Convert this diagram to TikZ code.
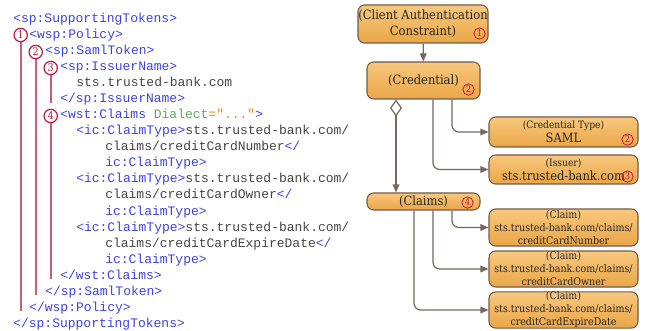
\documentclass[tikz,border=0pt]{standalone}
\usepackage{fontspec}
\usetikzlibrary{calc,arrows.meta}
\newfontfamily\codefont{Liberation Mono}
\newfontfamily\boxfont{DejaVu Serif Condensed}
\definecolor{tagblue}{RGB}{66,66,226}
\definecolor{codegray}{RGB}{70,70,70}
\definecolor{attrgreen}{RGB}{96,172,96}
\definecolor{valorange}{RGB}{240,132,24}
\definecolor{barpink}{RGB}{204,92,128}
\definecolor{badgered}{RGB}{196,20,62}
\definecolor{boxtop}{RGB}{248,200,126}
\definecolor{boxbot}{RGB}{234,166,70}
\definecolor{boxline}{RGB}{110,92,78}
\definecolor{linkgray}{RGB}{118,104,94}
\newcommand{\tagtxt}[1]{\textcolor{tagblue}{#1}}
\newcommand{\attrtxt}[1]{\textcolor{attrgreen}{#1}}
\newcommand{\valtxt}[1]{\textcolor{valorange}{#1}}

\begin{document}
\begin{tikzpicture}[x=0.75pt, y=-0.75pt,
    xmlline/.style={anchor=base west, inner sep=0pt, text=codegray,
        font=\codefont\fontsize{9.75}{11}\selectfont},
    bar/.style={draw=barpink, line width=1.5pt},
    badge/.style={circle, draw=badgered, fill=white, line width=0.9pt, inner sep=0pt,
        minimum size=10pt, text=badgered, font=\boxfont\fontsize{8}{8}\selectfont},
    smallbadge/.style={circle, draw=badgered, line width=0.6pt, inner sep=0pt,
        minimum size=8.5pt, text=badgered, font=\boxfont\fontsize{7}{7}\selectfont},
    entity/.style={draw=boxline, line width=0.8pt, rounded corners=5pt,
        top color=boxtop, bottom color=boxbot, align=center, inner sep=0pt,
        text=black!85, font=\boxfont\fontsize{9.6}{12}\selectfont},
    conn/.style={draw=linkgray, line width=0.9pt},
    tip/.style={-{Triangle[length=6pt,width=5pt]}}]
    % page
    \path[fill=white](0,0)rectangle(645,331);
    % xml listing
    \node[xmlline](l0)at(13,23){\tagtxt{<sp:SupportingTokens>}};
    \node[xmlline](l1)at(29,39){\tagtxt{<wsp:Policy>}};
    \node[xmlline](l2)at(45,55){\tagtxt{<sp:SamlToken>}};
    \node[xmlline](l3)at(60,71){\tagtxt{<sp:IssuerName>}};
    \node[xmlline](l4)at(76,87){sts.trusted-bank.com};
    \node[xmlline](l5)at(60,103){\tagtxt{</sp:IssuerName>}};
    \node[xmlline](l6)at(60,119){\tagtxt{<wst:Claims }\attrtxt{Dialect}\valtxt{="..."}\tagtxt{>}};
    \node[xmlline](l7)at(76,135){\tagtxt{<ic:ClaimType>}sts.trusted-bank.com/};
    \node[xmlline](l8)at(105,151){claims/creditCardNumber\tagtxt{</}};
    \node[xmlline](l9)at(105,167){\tagtxt{ic:ClaimType>}};
    \node[xmlline](l10)at(76,183){\tagtxt{<ic:ClaimType>}sts.trusted-bank.com/};
    \node[xmlline](l11)at(105,199){claims/creditCardOwner\tagtxt{</}};
    \node[xmlline](l12)at(105,215){\tagtxt{ic:ClaimType>}};
    \node[xmlline](l13)at(76,231){\tagtxt{<ic:ClaimType>}sts.trusted-bank.com/};
    \node[xmlline](l14)at(105,247){claims/creditCardExpireDate\tagtxt{</}};
    \node[xmlline](l15)at(105,263){\tagtxt{ic:ClaimType>}};
    \node[xmlline](l16)at(60,279){\tagtxt{</wst:Claims>}};
    \node[xmlline](l17)at(45,295){\tagtxt{</sp:SamlToken>}};
    \node[xmlline](l18)at(29,311){\tagtxt{</wsp:Policy>}};
    \node[xmlline](l19)at(13,327){\tagtxt{</sp:SupportingTokens>}};
    % scope bars
    \coordinate(p1)at(20.7,35);
    \coordinate(p2)at(35.7,52);
    \coordinate(p3)at(50.7,68);
    \coordinate(p4)at(50.7,116);
    \path[draw, bar](p1)to(p1 |- l18.base);
    \path[draw, bar](p2)to(p2 |- l17.base);
    \path[draw, bar](p3)to(p3 |- l5.base);
    \path[draw, bar](p4)to(p4 |- l16.base);
    \node[badge](n1)at(p1){1};
    \node[badge](n2)at(p2){2};
    \node[badge](n3)at(p3){3};
    \node[badge](n4)at(p4){4};
    % model boxes
    \node[entity, minimum width=97.5pt, minimum height=28.5pt](client)at(423,24)
        {(Client Authentication\\Constraint)};
    \node[entity, minimum width=84.75pt, minimum height=27.75pt](cred)at(423.5,80.5)
        {(Credential)};
    \node[entity, minimum width=111.75pt, minimum height=22.5pt,
        font=\boxfont\fontsize{9.6}{10.5}\selectfont](ctype)at(563.5,132)
        {{\fontsize{7.6}{10}\selectfont(Credential Type)}\\SAML};
    \node[entity, minimum width=111.75pt, minimum height=21.75pt,
        font=\boxfont\fontsize{9.6}{10.5}\selectfont](issuer)at(563.5,169.5)
        {{\fontsize{7.6}{10}\selectfont(Issuer)}\\sts.trusted-bank.com};
    \node[entity, minimum width=84.75pt, minimum height=12.75pt](claims)at(423.5,201.5)
        {(Claims)};
    \node[entity, minimum width=111.75pt, minimum height=27.75pt,
        font=\boxfont\fontsize{7.9}{9.75}\selectfont](numclaim)at(563.5,227.5)
        {(Claim)\\sts.trusted-bank.com/claims/\\creditCardNumber};
    \node[entity, minimum width=111.75pt, minimum height=27pt,
        font=\boxfont\fontsize{7.9}{9.75}\selectfont](ownclaim)at(563.5,269)
        {(Claim)\\sts.trusted-bank.com/claims/\\creditCardOwner};
    \node[entity, minimum width=111.75pt, minimum height=27pt,
        font=\boxfont\fontsize{7.9}{9.75}\selectfont](expclaim)at(563.5,310)
        {(Claim)\\sts.trusted-bank.com/claims/\\creditCardExpireDate};
    % numbers on the boxes
    \node[smallbadge](c1)at($(client.south east)+(-9,-10)$){1};
    \node[smallbadge](c2)at($(cred.south east)+(-12,-10)$){2};
    \node[smallbadge](c3)at($(ctype.south east)+(-11,-8)$){2};
    \node[smallbadge](c4)at($(issuer.south east)+(-11,-8)$){3};
    \node[smallbadge](c5)at($(claims.south east)+(-13,-8)$){4};
    % links
    \path[draw, conn, tip](client)to(cred);
    \path[draw, conn, {Diamond[open, length=12.75pt, width=9pt]}-{Triangle[length=6pt,width=5pt]}]
        ($(cred.south)+(-27.5,0)$)to($(claims.north)+(-27.5,0)$);
    \path[draw, conn, tip, rounded corners=5pt]($(cred.south)+(28.5,0)$)|-(ctype.west);
    \path[draw, conn, tip, rounded corners=5pt]($(cred.south)+(9.5,0)$)|-(issuer.west);
    \path[draw, conn, tip, rounded corners=5pt]($(claims.south)+(28.5,0)$)|-(numclaim.west);
    \path[draw, conn, tip, rounded corners=5pt]($(claims.south)+(9.5,0)$)|-(ownclaim.west);
    \path[draw, conn, tip, rounded corners=5pt]($(claims.south)+(-9.5,0)$)|-(expclaim.west);
\end{tikzpicture}
\end{document}
